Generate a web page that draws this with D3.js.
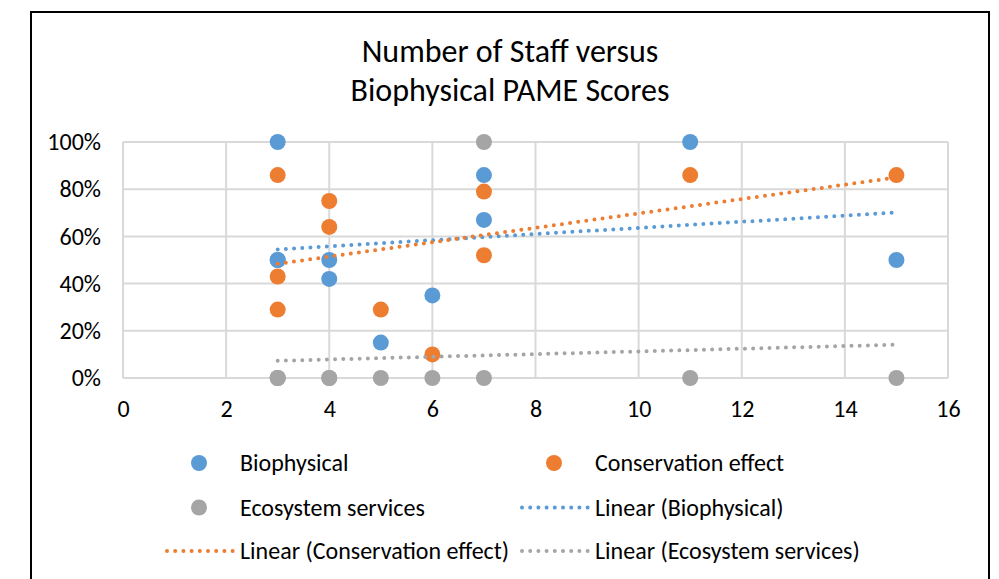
<!DOCTYPE html>
<html>
<head>
<meta charset="utf-8">
<script src="https://cdn.jsdelivr.net/npm/d3@7/dist/d3.min.js"></script>
<style>
  html, body { margin: 0; padding: 0; background: #fff; }
  svg { display: block; }
  text { font-family: Carlito, Calibri, "Open Sans", "Noto Sans", sans-serif; fill: #000; }
</style>
</head>
<body>
<svg id="chart" width="999" height="579"></svg>
<script>
// ---- data ----
const staff        = [3, 3, 3, 4, 4, 5, 6, 7, 7, 11, 15];
const biophysical  = [1.00, 0.50, 0.50, 0.50, 0.42, 0.15, 0.35, 0.86, 0.67, 1.00, 0.50];
const conservation = [0.86, 0.43, 0.29, 0.75, 0.64, 0.29, 0.10, 0.79, 0.52, 0.86, 0.86];
const ecosystem    = [0, 0, 0, 0, 0, 0, 0, 1, 0, 0, 0];
const xTicks = [0, 2, 4, 6, 8, 10, 12, 14, 16];
const yTicks = [0, 0.2, 0.4, 0.6, 0.8, 1.0];
const seriesNames = ["Biophysical", "Conservation effect", "Ecosystem services"];
const seriesColors = ["#5B9BD5", "#ED7D31", "#A5A5A5"];
const titleLines = ["Number of Staff versus", "Biophysical PAME Scores"];

const FONT = "Carlito, Calibri, 'Open Sans', 'Noto Sans', sans-serif";
const LABEL_SIZE = 24;
const svg = d3.select("#chart");

// chart frame (bottom beyond view)
svg.append("path")
  .attr("d", "M31,579 V12 H989 V579")
  .attr("fill", "none").attr("stroke", "#000").attr("stroke-width", 2);

// title
svg.append("g").selectAll("text").data(titleLines).join("text")
  .attr("x", 510).attr("y", (d, i) => 62 + i * 38.5)
  .attr("text-anchor", "middle")
  .attr("font-size", 32)
  .text(d => d);

const x = d3.scaleLinear().domain([0, 16]).range([123, 948]);
const y = d3.scaleLinear().domain([0, 1]).range([378, 142]);

// gridlines
const grid = svg.append("g");
grid.selectAll("line.v").data(xTicks).join("line")
  .attr("x1", d => x(d)).attr("x2", d => x(d))
  .attr("y1", y(0)).attr("y2", y(1))
  .attr("stroke", "#d9d9d9").attr("stroke-width", 2);
grid.selectAll("line.h").data(yTicks).join("line")
  .attr("x1", x(0)).attr("x2", x(16))
  .attr("y1", d => y(d)).attr("y2", d => y(d))
  .attr("stroke", "#d9d9d9").attr("stroke-width", 2);

// axes (labels only)
const xAxis = svg.append("g").attr("transform", `translate(0,${y(0)})`)
  .call(d3.axisBottom(x).tickValues(xTicks).tickSize(0).tickPadding(24).tickFormat(d3.format("d")));
const yAxis = svg.append("g").attr("transform", `translate(${x(0)},0)`)
  .call(d3.axisLeft(y).tickValues(yTicks).tickSize(0).tickPadding(22).tickFormat(d3.format(".0%")));
[xAxis, yAxis].forEach(a => {
  a.select(".domain").remove();
  a.selectAll("text").attr("font-size", LABEL_SIZE).attr("fill", "#000").style("font-family", FONT);
});
xAxis.selectAll("text").attr("dy", "0.35em").attr("y", 31);

// scatter points
const allSeries = [biophysical, conservation, ecosystem];
allSeries.forEach((vals, si) => {
  svg.append("g").selectAll("circle").data(vals.map((v, i) => [staff[i], v])).join("circle")
    .attr("cx", d => x(d[0])).attr("cy", d => y(d[1])).attr("r", 8)
    .attr("fill", seriesColors[si]);
});

// linear trend lines (least squares)
function linfit(xs, ys) {
  const n = xs.length;
  const mx = d3.mean(xs), my = d3.mean(ys);
  let sxy = 0, sxx = 0;
  for (let i = 0; i < n; i++) { sxy += (xs[i] - mx) * (ys[i] - my); sxx += (xs[i] - mx) ** 2; }
  const b = sxy / sxx;
  return t => my + b * (t - mx);
}
const xmin = d3.min(staff), xmax = d3.max(staff);
const line = d3.line().x(d => x(d[0])).y(d => y(d[1]));
allSeries.forEach((vals, si) => {
  const f = linfit(staff, vals);
  svg.append("path")
    .attr("d", line([[xmin, f(xmin)], [xmax, f(xmax)]]))
    .attr("fill", "none").attr("stroke", seriesColors[si])
    .attr("stroke-width", 4).attr("stroke-linecap", "round")
    .attr("stroke-dasharray", "0 8.2");
});

// legend
const legendItems = [
  { label: "Biophysical", type: "marker", color: seriesColors[0], col: 0, row: 0 },
  { label: "Conservation effect", type: "marker", color: seriesColors[1], col: 1, row: 0 },
  { label: "Ecosystem services", type: "marker", color: seriesColors[2], col: 0, row: 1 },
  { label: "Linear (Biophysical)", type: "line", color: seriesColors[0], col: 1, row: 1 },
  { label: "Linear (Conservation effect)", type: "line", color: seriesColors[1], col: 0, row: 2 },
  { label: "Linear (Ecosystem services)", type: "line", color: seriesColors[2], col: 1, row: 2 }
];
const colX = [165, 520];
const rowY = [463, 507.5, 551];
const lg = svg.append("g");
legendItems.forEach(it => {
  const g = lg.append("g").attr("transform", `translate(${colX[it.col]},${rowY[it.row]})`);
  if (it.type === "marker") {
    g.append("circle").attr("cx", 34).attr("cy", 0).attr("r", 8).attr("fill", it.color);
  } else {
    g.append("line").attr("x1", 2).attr("x2", 70).attr("y1", 0).attr("y2", 0)
      .attr("stroke", it.color).attr("stroke-width", 4).attr("stroke-linecap", "round")
      .attr("stroke-dasharray", "0 8.2");
  }
  g.append("text").attr("x", 75).attr("y", 0).attr("dy", "0.35em")
    .attr("font-size", LABEL_SIZE).text(it.label);
});
</script>
</body>
</html>
